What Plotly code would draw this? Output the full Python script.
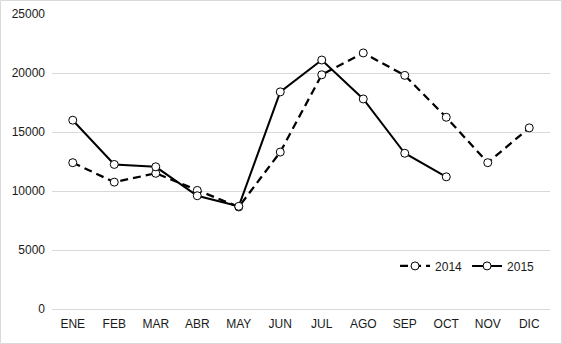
import plotly.graph_objects as go

months = ["ENE", "FEB", "MAR", "ABR", "MAY", "JUN", "JUL", "AGO", "SEP", "OCT", "NOV", "DIC"]
sales_2014 = [12400, 10750, 11500, 10050, 8650, 13300, 19850, 21700, 19800, 16250, 12400, 15350]
sales_2015 = [16000, 12250, 12050, 9600, 8700, 18400, 21100, 17800, 13200, 11200]
y_ticks = [0, 5000, 10000, 15000, 20000, 25000]

marker = dict(symbol="circle", size=8, color="white", line=dict(color="black", width=1))

fig = go.Figure()
fig.add_trace(go.Scatter(
    x=months, y=sales_2014, name="2014", mode="lines+markers",
    line=dict(color="black", width=2.25, dash="8px,5px"), marker=marker,
))
fig.add_trace(go.Scatter(
    x=months[:len(sales_2015)], y=sales_2015, name="2015", mode="lines+markers",
    line=dict(color="black", width=2), marker=marker,
))

font = dict(family="Liberation Sans, Arial, sans-serif", size=12, color="#1a1a1a")

L, R, T, B = 52, 12, 14, 35
W, H = 562, 344
pw, ph = W - L - R, H - T - B

fig.update_layout(
    width=W, height=H,
    margin=dict(l=L, r=R, t=T, b=B, autoexpand=False),
    paper_bgcolor="white", plot_bgcolor="white",
    font=font,
    showlegend=True,
    legend=dict(orientation="h", x=0.98, xanchor="right", y=0.146, yanchor="middle",
                bgcolor="rgba(0,0,0,0)", font=font, itemwidth=30, tracegroupgap=0),
    xaxis=dict(type="category", categoryorder="array", categoryarray=months,
               range=[-0.5, 11.5], showgrid=False, showline=False, ticks="",
               ticklabelstandoff=6, automargin=False),
    yaxis=dict(range=[0, 25000], tickvals=y_ticks, ticktext=[str(v) for v in y_ticks],
               showgrid=True, gridcolor="#d9d9d9", gridwidth=1,
               zeroline=True, zerolinecolor="#d9d9d9", zerolinewidth=1,
               showline=False, ticks="", ticklabelstandoff=6, automargin=False),
    shapes=[dict(type="rect", xref="paper", yref="paper",
                 x0=-(L - 0.5) / pw, x1=1 + (R - 0.5) / pw,
                 y0=-(B - 0.5) / ph, y1=1 + (T - 0.5) / ph,
                 line=dict(color="#d9d9d9", width=1))],
)

fig.write_html("out.html")
